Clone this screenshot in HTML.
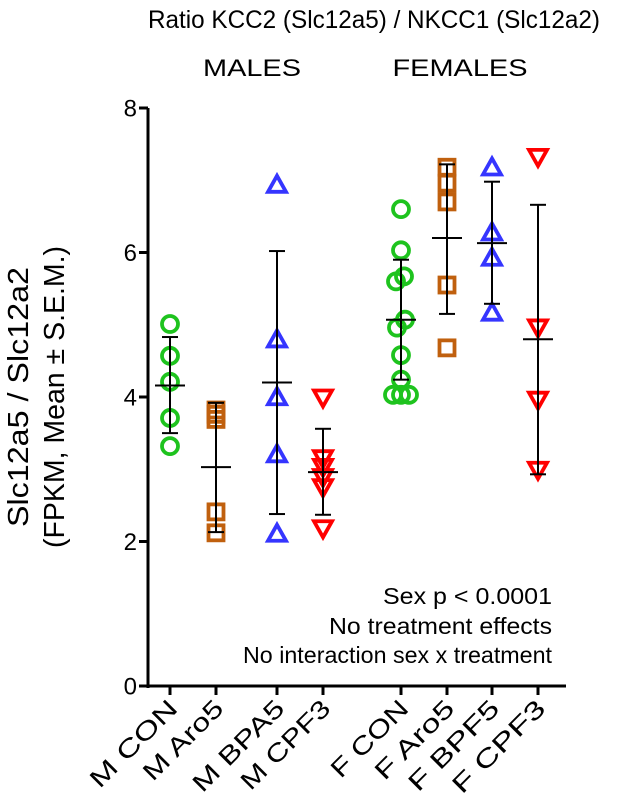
<!DOCTYPE html>
<html><head><meta charset="utf-8"><style>
body{margin:0;background:#fff}
svg{display:block;font-family:"Liberation Sans",Arial,sans-serif}
</style></head><body>
<svg id="chart" width="633" height="799">
<text x="374" y="28" font-size="25" text-anchor="middle" textLength="452" lengthAdjust="spacingAndGlyphs">Ratio KCC2 (Slc12a5) / NKCC1 (Slc12a2)</text>
<text x="252" y="76" font-size="24" text-anchor="middle" textLength="98" lengthAdjust="spacingAndGlyphs">MALES</text>
<text x="460" y="76" font-size="24" text-anchor="middle" textLength="135" lengthAdjust="spacingAndGlyphs">FEMALES</text>
<g transform="translate(0,397) rotate(-90)">
<text x="0" y="28" font-size="29" text-anchor="middle" textLength="260" lengthAdjust="spacingAndGlyphs">Slc12a5 / Slc12a2</text>
<text x="0" y="64" font-size="29" text-anchor="middle" textLength="302" lengthAdjust="spacingAndGlyphs">(FPKM, Mean ± S.E.M.)</text>
</g>
<text x="552" y="604" font-size="23" text-anchor="end" textLength="169" lengthAdjust="spacingAndGlyphs">Sex p &lt; 0.0001</text>
<text x="552" y="634" font-size="23" text-anchor="end" textLength="223" lengthAdjust="spacingAndGlyphs">No treatment effects</text>
<text x="552" y="663" font-size="23" text-anchor="end" textLength="309" lengthAdjust="spacingAndGlyphs">No interaction sex x treatment</text>
<g id="plot"></g>
</svg>
<script>
const categories=["M CON","M Aro5","M BPA5","M CPF3","F CON","F Aro5","F BPF5","F CPF3"];
const points=[
 [5.01,4.57,4.21,3.71,3.32],
 [3.82,3.76,3.69,2.41,2.12],
 [6.93,4.79,3.99,3.2,2.1],
 [4.0,3.16,3.04,2.9,2.76,2.19],
 [6.6,6.03,5.67,5.6,5.07,4.96,4.58,4.24,4.03,4.03,4.03],
 [7.18,6.96,6.7,5.55,4.68],
 [7.17,6.27,5.92,5.16],
 [7.33,4.97,3.97,3.0]
];
const means=[4.16,3.03,4.2,2.96,5.07,6.2,6.13,4.8];
const errUpper=[4.83,3.92,6.02,3.56,5.9,7.22,6.98,6.66];
const errLower=[3.5,2.13,2.38,2.37,4.24,5.15,5.29,2.93];
const yTicks=[0,2,4,6,8];
const colors=["#1ec31e","#c0600e","#3535ff","#ff0000","#1ec31e","#c0600e","#3535ff","#ff0000"];
const shapes=["circle","square","triangle","down","circle","square","triangle","down"];
const catX=[170,216,277,323,401,447,492,538];
const labelLen=[112,102,118,115,98,101,117,120];
const jitterFCON=[0,0,3,-5,4,-4,0,0,-8,0,8];
const y=v=>686-v*72.25;
const NS="http://www.w3.org/2000/svg";
const plot=document.getElementById('plot');
function mk(tag,at,parent){const e=document.createElementNS(NS,tag);for(const k in at)e.setAttribute(k,at[k]);(parent||plot).appendChild(e);return e;}
let ax=mk('line',{x1:148,y1:y(8),x2:148,y2:688,stroke:'#000','stroke-width':3});


let bx=mk('line',{x1:146,y1:686,x2:566,y2:686,stroke:'#000','stroke-width':3});


yTicks.forEach(t=>{
 let l=mk('line',{x1:139,y1:y(t),x2:148,y2:y(t),stroke:'#000','stroke-width':3});
 
 
 let tx=mk('text',{x:137,y:y(t)+8.5,'font-size':24,'text-anchor':'end'});
 tx.textContent=t;
 
 
});
categories.forEach((c,i)=>{
 const cx=catX[i];
 let l=mk('line',{x1:cx,y1:686,x2:cx,y2:695,stroke:'#000','stroke-width':3});
 
 
 let tx=mk('text',{x:0,y:0,'font-size':25,'text-anchor':'end',textLength:labelLen[i],lengthAdjust:'spacingAndGlyphs',transform:`translate(${cx+9},${710}) rotate(-45)`});
 tx.textContent=c;
 
 
 const g=mk('g',{});
 
 
 points[i].forEach((v,j)=>{
  const px=cx+(i===4?(jitterFCON[j]||0):0), py=y(v), col=colors[i];
  let e;
  if(shapes[i]==='circle') e=mk('circle',{cx:px,cy:py,r:8,fill:'none',stroke:col,'stroke-width':3.8},g);
  else if(shapes[i]==='square') e=mk('rect',{x:px-7.5,y:py-7.5,width:15,height:15,fill:'none',stroke:col,'stroke-width':3.8},g);
  else if(shapes[i]==='triangle') e=mk('polygon',{points:`${px},${py-9.5} ${px+9},${py+6.5} ${px-9},${py+6.5}`,fill:'none',stroke:col,'stroke-width':3.8},g);
  else e=mk('polygon',{points:`${px},${py+9.5} ${px+9},${py-6.5} ${px-9},${py-6.5}`,fill:'none',stroke:col,'stroke-width':3.8},g);
  
  
 });
 const eb=mk('g',{stroke:'#000','stroke-width':2},g);
 
 
 mk('line',{x1:cx,y1:y(errUpper[i]),x2:cx,y2:y(errLower[i])},eb);
 mk('line',{x1:cx-8,y1:y(errUpper[i]),x2:cx+8,y2:y(errUpper[i])},eb);
 mk('line',{x1:cx-8,y1:y(errLower[i]),x2:cx+8,y2:y(errLower[i])},eb);
 let m=mk('line',{x1:cx-15,y1:y(means[i]),x2:cx+15,y2:y(means[i]),stroke:'#000','stroke-width':2},g);
 
 
});
</script>
</body></html>
